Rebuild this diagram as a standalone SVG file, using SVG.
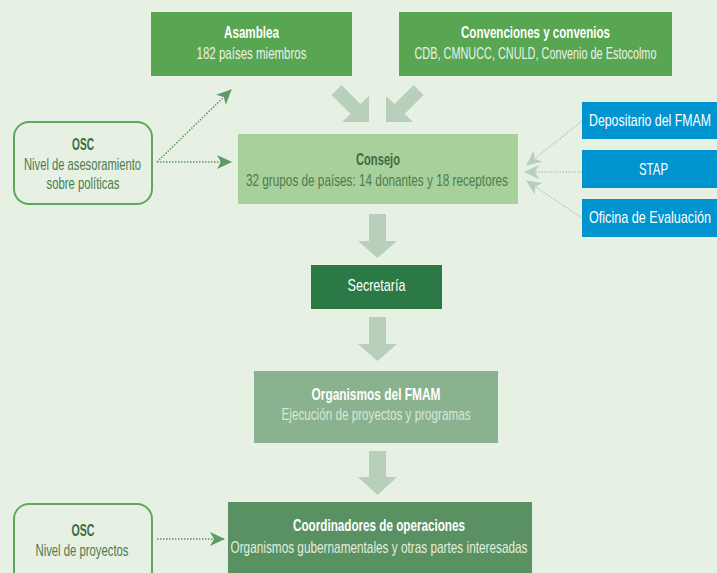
<svg xmlns="http://www.w3.org/2000/svg" width="717" height="573" viewBox="0 0 717 573">
<style>
text{font-family:"Liberation Sans","Arial",sans-serif;text-anchor:middle;font-size:17px}
.t{font-weight:bold}
.w{fill:#ffffff}
.ws{fill:#e9f2e6}
.dk{fill:#3c6b42}
.dks{fill:#4d7c51}
.fat{fill:#b8d0bb}
.dd{fill:none;stroke:#5e9968;stroke-width:1.5;stroke-dasharray:1.5 1.5}
.dl{fill:none;stroke:#b8d0bb;stroke-width:1.5;stroke-dasharray:1.5 1.5}
.osc{fill:#e6f0e3;stroke:#5ea85a;stroke-width:2}
</style>
<defs>
<marker id="ad" markerUnits="userSpaceOnUse" markerWidth="15" markerHeight="14" refX="14" refY="7" orient="auto"><path d="M0,0 L15,7 L0,14 L4,7 z" fill="#5e9968"/></marker>
<marker id="al" markerUnits="userSpaceOnUse" markerWidth="15" markerHeight="14" refX="14" refY="7" orient="auto"><path d="M0,0 L15,7 L0,14 L4,7 z" fill="#b8d0bb"/></marker>
</defs>
<rect width="717" height="573" fill="#e6f0e3"/>

<g id="connectors">
<polygon class="fat" points="331.5,95 341.5,85 360.5,104 369,96 369,122 342,122 350.5,114"/>
<polygon class="fat" points="423.5,95 413.5,85 394.5,104 386,96 386,122 413,122 404.5,114"/>
<polygon class="fat" points="369,214 386,214 386,241 397,241 377.5,258 358,241 369,241"/>
<polygon class="fat" points="369,317 386,317 386,344 397,344 377.5,361 358,344 369,344"/>
<polygon class="fat" points="369,451 386,451 386,477 397,477 377.5,495 358,477 369,477"/>
<line class="dd" x1="157" y1="162" x2="231" y2="90" marker-end="url(#ad)"/>
<line class="dd" x1="157" y1="162" x2="231" y2="162" marker-end="url(#ad)"/>
<line class="dd" x1="157" y1="539" x2="224" y2="539" marker-end="url(#ad)"/>
<line class="dl" x1="582" y1="121" x2="527" y2="165" marker-end="url(#al)"/>
<line class="dl" x1="582" y1="172" x2="525" y2="172" marker-end="url(#al)"/>
<line class="dl" x1="582" y1="218" x2="527" y2="181" marker-end="url(#al)"/>
</g>

<g id="asamblea">
<rect x="151" y="12" width="201" height="64" fill="#58a552"/>
<text class="t w" x="251.5" y="38" textLength="55" lengthAdjust="spacingAndGlyphs">Asamblea</text>
<text class="ws" x="251.5" y="59" textLength="110" lengthAdjust="spacingAndGlyphs">182 países miembros</text>
</g>

<g id="convenciones">
<rect x="399" y="12" width="273" height="64" fill="#58a552"/>
<text class="t w" x="535.5" y="38" textLength="149" lengthAdjust="spacingAndGlyphs">Convenciones y convenios</text>
<text class="ws" x="535.5" y="59" textLength="242" lengthAdjust="spacingAndGlyphs">CDB, CMNUCC, CNULD, Convenio de Estocolmo</text>
</g>

<g id="consejo">
<rect x="238" y="134" width="280" height="70" fill="#a7d09a"/>
<text class="t dk" x="378" y="165" textLength="44" lengthAdjust="spacingAndGlyphs">Consejo</text>
<text class="dks" x="377" y="186" textLength="262" lengthAdjust="spacingAndGlyphs">32 grupos de países: 14 donantes y 18 receptores</text>
</g>

<g id="osc1">
<rect class="osc" x="14" y="122" width="138" height="82" rx="15"/>
<text class="t dk" x="83" y="150" textLength="22" lengthAdjust="spacingAndGlyphs">OSC</text>
<text class="dks" x="82.5" y="170" textLength="117" lengthAdjust="spacingAndGlyphs">Nivel de asesoramiento</text>
<text class="dks" x="83" y="189" textLength="73" lengthAdjust="spacingAndGlyphs">sobre políticas</text>
</g>

<g id="depositario">
<rect x="582" y="102" width="135" height="37" fill="#0094d0"/>
<text class="w" x="650" y="126" textLength="122" lengthAdjust="spacingAndGlyphs">Depositario del FMAM</text>
</g>
<g id="stap">
<rect x="582" y="150" width="135" height="38" fill="#0094d0"/>
<text class="w" x="653.5" y="175" textLength="29" lengthAdjust="spacingAndGlyphs">STAP</text>
</g>
<g id="oficina">
<rect x="582" y="199" width="135" height="38" fill="#0094d0"/>
<text class="w" x="650" y="223" textLength="122" lengthAdjust="spacingAndGlyphs">Oficina de Evaluación</text>
</g>

<g id="secretaria">
<rect x="311" y="265" width="131" height="44" fill="#2b7a45"/>
<text class="w" x="376.5" y="291" textLength="58" lengthAdjust="spacingAndGlyphs">Secretaría</text>
</g>

<g id="organismos">
<rect x="254" y="371" width="244" height="72" fill="#8ab28e"/>
<text class="t w" x="376" y="400" textLength="129" lengthAdjust="spacingAndGlyphs">Organismos del FMAM</text>
<text x="376" y="420" fill="#d8e8d5" textLength="189" lengthAdjust="spacingAndGlyphs">Ejecución de proyectos y programas</text>
</g>

<g id="coordinadores">
<rect x="228" y="502" width="304" height="75" fill="#5a9163"/>
<text class="t w" x="379" y="531" textLength="172" lengthAdjust="spacingAndGlyphs">Coordinadores de operaciones</text>
<text x="379" y="553" fill="#e2eede" textLength="297" lengthAdjust="spacingAndGlyphs">Organismos gubernamentales y otras partes interesadas</text>
</g>

<g id="osc2">
<rect class="osc" x="14" y="504" width="138" height="90" rx="15"/>
<text class="t dk" x="83" y="536" textLength="23" lengthAdjust="spacingAndGlyphs">OSC</text>
<text class="dks" x="82" y="556" textLength="93" lengthAdjust="spacingAndGlyphs">Nivel de proyectos</text>
</g>
</svg>
